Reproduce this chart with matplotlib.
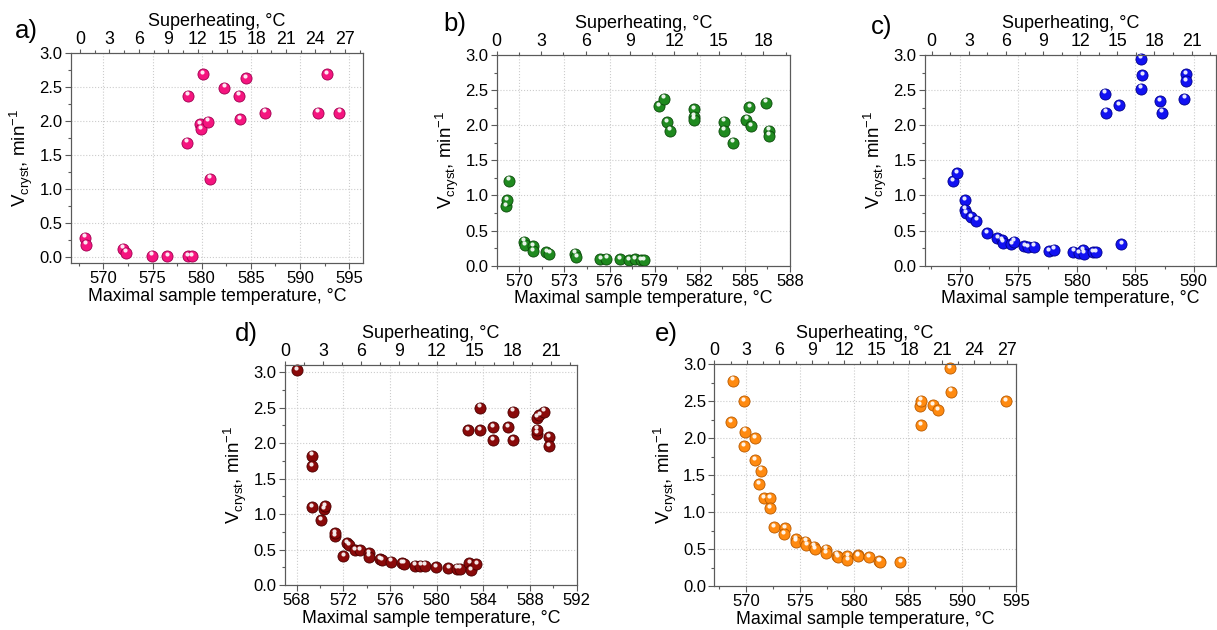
import matplotlib
matplotlib.use("Agg")
import matplotlib.pyplot as plt
import numpy as np
from matplotlib.transforms import offset_copy
from matplotlib.ticker import MultipleLocator

plt.rcParams['font.family'] = ['Liberation Sans', 'DejaVu Sans']

# ---------------- data ----------------
a_temp = [568.1, 568.2, 572.0, 572.3, 574.9, 576.5, 578.6, 579.0,
          578.6, 578.5, 580.1, 579.8, 579.9, 580.6, 580.8, 582.3, 583.8,
          584.5, 583.9, 586.4, 591.8, 592.7, 594.0]
a_vel = [0.28, 0.18, 0.12, 0.06, 0.02, 0.01, 0.01, 0.01,
         2.37, 1.68, 2.69, 1.95, 1.88, 1.99, 1.15, 2.49, 2.37,
         2.63, 2.03, 2.12, 2.12, 2.69, 2.12]

b_temp = [569.1, 569.2, 569.3, 570.3, 570.4, 570.9, 570.9, 571.8, 572.0,
          573.7, 573.8, 575.4, 575.8, 576.7, 577.3, 577.7, 578.1, 578.3,
          579.3, 579.6, 579.8, 580.0, 581.6, 581.6, 581.6, 583.6, 583.6,
          584.2, 585.1, 585.3, 585.4, 586.4, 586.6, 586.6]
b_vel = [0.85, 0.93, 1.21, 0.34, 0.29, 0.28, 0.21, 0.19, 0.17,
         0.17, 0.12, 0.09, 0.10, 0.09, 0.08, 0.09, 0.08, 0.08,
         2.27, 2.38, 2.04, 1.92, 2.23, 2.12, 2.08, 2.05, 1.92,
         1.75, 2.08, 2.26, 1.99, 2.32, 1.92, 1.85]

c_temp = [569.4, 569.7, 570.4, 570.4, 570.5, 570.9, 571.4, 572.3, 573.2,
          573.6, 573.7, 574.4, 574.6, 575.5, 575.8, 576.3, 577.6, 578.0,
          579.7, 580.2, 580.5, 580.6, 581.4, 581.6, 583.8,
          582.4, 582.5, 583.6, 585.5, 585.6, 585.5, 587.1, 587.3,
          589.2, 589.3, 589.3]
c_vel = [1.20, 1.32, 0.93, 0.80, 0.75, 0.69, 0.64, 0.46, 0.39,
         0.36, 0.33, 0.31, 0.34, 0.28, 0.26, 0.27, 0.21, 0.23,
         0.20, 0.18, 0.22, 0.17, 0.19, 0.19, 0.31,
         2.45, 2.18, 2.29, 2.95, 2.71, 2.52, 2.34, 2.18,
         2.38, 2.73, 2.63]

d_temp = [568.0, 569.3, 569.3, 569.3, 570.1, 570.3, 570.4, 571.3, 571.3,
          572.0, 572.3, 572.5, 573.0, 573.4, 574.2, 574.2, 575.1, 575.3,
          576.1, 577.0, 577.2, 578.1, 578.6, 579.0, 579.9, 581.0, 581.7,
          582.0, 582.8, 582.9, 583.4,
          582.7, 583.7, 583.7, 584.8, 584.8, 586.1, 586.5, 586.5,
          588.6, 588.8, 588.6, 588.6, 589.2, 589.6, 589.6]
d_vel = [3.03, 1.82, 1.67, 1.10, 0.91, 1.07, 1.11, 0.69, 0.73,
         0.41, 0.59, 0.56, 0.49, 0.49, 0.45, 0.40, 0.36, 0.35,
         0.33, 0.31, 0.30, 0.27, 0.27, 0.27, 0.25, 0.24, 0.23,
         0.23, 0.31, 0.21, 0.29,
         2.18, 2.50, 2.18, 2.22, 2.04, 2.22, 2.44, 2.04,
         2.36, 2.39, 2.13, 2.19, 2.44, 2.08, 1.96]

e_temp = [568.6, 568.8, 569.8, 569.9, 569.8, 570.8, 570.8, 571.4, 571.2,
          571.7, 572.2, 572.2, 572.6, 573.6, 573.5, 574.6, 574.6, 575.5,
          575.6, 576.3, 576.4, 577.4, 577.4, 578.4, 578.5, 579.4, 579.4,
          580.4, 580.4, 581.4, 582.3, 582.4, 584.3,
          586.1, 586.2, 586.2, 587.3, 587.8, 588.9, 589.0, 594.1]
e_vel = [2.22, 2.78, 2.50, 2.09, 1.89, 2.00, 1.70, 1.56, 1.38,
         1.19, 1.19, 1.05, 0.80, 0.78, 0.70, 0.63, 0.60, 0.60,
         0.55, 0.53, 0.50, 0.49, 0.44, 0.41, 0.39, 0.40, 0.35,
         0.42, 0.40, 0.39, 0.34, 0.33, 0.32,
         2.44, 2.51, 2.18, 2.45, 2.38, 2.95, 2.63, 2.50]

W, H = 1217, 630
fig = plt.figure(figsize=(W / 100, H / 100), dpi=100)


def px_axes(l, r, t, b):
    return fig.add_axes([l / W, 1 - b / H, (r - l) / W, (b - t) / H])


panels = [
    # label, temps, vels, color, edge, box, xlim, xmajor, xticks, toplim, ylim, labelpos
    ('a)', a_temp, a_vel, '#F5157F', '#A00050', (71, 363, 53, 263),
     (566.7, 596.4), 5, np.arange(570, 596, 5), (-0.92, 28.85), (-0.09, 3.0), (15, 38)),
    ('b)', b_temp, b_vel, '#1F8A1F', '#0B4A0B', (496.7, 790, 55, 265.7),
     (568.5, 588), 3, np.arange(570, 589, 3), (0, 19.8), (0, 3.0), (443, 31)),
    ('c)', c_temp, c_vel, '#1212F2', '#00008A', (925, 1216, 55, 265.7),
     (567.0, 591.9), 5, np.arange(570, 591, 5), (-0.54, 22.97), (0, 3.0), (871, 34)),
    ('d)', d_temp, d_vel, '#8A0A0A', '#4A0000', (285, 576.7, 365, 585),
     (567.0, 592), 4, np.arange(568, 593, 4), (0, 23.06), (0, 3.1), (235, 341)),
    ('e)', e_temp, e_vel, '#FF8A10', '#B85A00', (714.3, 1016, 364.3, 586),
     (567.07, 595), 5, np.arange(570, 596, 5), (0, 27.86), (0, 3.0), (655, 341)),
]

spine_col = '#5a5a5a'

for (lab, xs, ys, col, edge, box, xlim, xmaj, xt, toplim, ylim, lpos) in panels:
    ax = px_axes(*box)
    ax.set_xlim(*xlim)
    ax.set_ylim(*ylim)
    ax.set_xticks(xt)
    ax.xaxis.set_minor_locator(MultipleLocator(xmaj / 2))
    ax.set_yticks(np.arange(0, 3.01, 0.5))
    ax.yaxis.set_minor_locator(MultipleLocator(0.25))
    ax.set_yticklabels([f'{v:.1f}' for v in np.arange(0, 3.01, 0.5)])
    ax.grid(True, which='major', linestyle=':', color='#cccccc', linewidth=0.8)
    ax.set_axisbelow(True)
    ax.tick_params(axis='both', which='major', direction='out', length=4,
                   width=0.8, color=spine_col, labelsize=12, pad=2)
    ax.tick_params(axis='both', which='minor', direction='out', length=2.5,
                   width=0.8, color=spine_col)
    for sp in ax.spines.values():
        sp.set_color(spine_col)
        sp.set_linewidth(0.8)
    ax.set_xlabel('Maximal sample temperature, °C', fontsize=12.8, labelpad=1)
    ax.set_ylabel(r'V$_{\mathregular{cryst}}$, min$^{\mathregular{-1}}$',
                  fontsize=13.5, labelpad=3)

    ax.scatter(xs, ys, s=64, c=col, edgecolors=edge, linewidths=0.6,
               zorder=3, clip_on=False)
    tr = offset_copy(ax.transData, fig=fig, x=-0.6, y=1.7, units='points')
    ax.scatter(xs, ys, s=9, c='white', alpha=0.9, linewidths=0,
               transform=tr, zorder=4, clip_on=False)

    axt = ax.twiny()
    axt.set_xlim(*toplim)
    axt.set_xticks(np.arange(0, 28, 3))
    axt.set_xlim(*toplim)
    axt.xaxis.set_minor_locator(MultipleLocator(1.5))
    axt.tick_params(axis='x', which='major', direction='out', length=3,
                    width=0.8, color=spine_col, labelsize=12.8, pad=0.5)
    axt.tick_params(axis='x', which='minor', direction='out', length=2,
                    width=0.8, color=spine_col)
    for sp in axt.spines.values():
        sp.set_color(spine_col)
        sp.set_linewidth(0.8)
    axt.set_xlabel('Superheating, °C', fontsize=13, labelpad=3.5)

    fig.text(lpos[0] / W, 1 - lpos[1] / H, lab, fontsize=18.5, ha='left',
             va='baseline')

fig.savefig('out.png', dpi=100)
